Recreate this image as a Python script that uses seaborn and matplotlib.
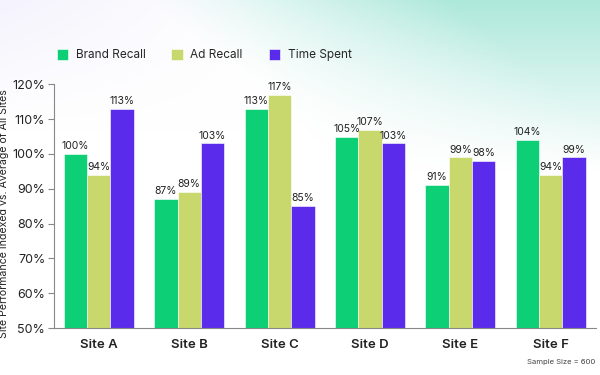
import matplotlib
matplotlib.use('Agg')
import matplotlib.pyplot as plt
import numpy as np
import pandas as pd
import seaborn as sns

sites = ['Site A', 'Site B', 'Site C', 'Site D', 'Site E', 'Site F']
metrics = ['Brand Recall', 'Ad Recall', 'Time Spent']
brand_recall = [100, 87, 113, 105, 91, 104]
ad_recall = [94, 89, 117, 107, 99, 94]
time_spent = [113, 103, 85, 103, 98, 99]
palette = ['#0ccf76', '#c9d86c', '#5a2bea']

df = pd.DataFrame({
    'Site': sites * 3,
    'Metric': [m for m in metrics for _ in sites],
    'Value': brand_recall + ad_recall + time_spent,
})

sns.set_style('white')
plt.rcParams['font.family'] = ['Inter', 'DejaVu Sans']

fig = plt.figure(figsize=(6, 3.75), dpi=100)

# soft background gradient (teal top-right, lavender top-left)
bg = fig.add_axes([0, 0, 1, 1], zorder=-10)
h, w = 375, 600
yy, xx = np.mgrid[0:h, 0:w]
img = np.ones((h, w, 3))
teal = np.array([0.68, 0.91, 0.86])
lav = np.array([0.95, 0.94, 0.99])
t = np.clip(((xx - 330) / 270.0) * 0.9 + (1 - yy / 150.0) * 0.6, 0, 1) * np.clip(1 - yy / 170.0, 0, 1)
t = np.clip(t, 0, 1)[..., None]
l = (np.clip(1 - xx / 260.0, 0, 1) * np.clip(1 - yy / 130.0, 0, 1))[..., None] * 0.8
img = img * (1 - t) + teal * t
img = img * (1 - l) + lav * l
bg.imshow(img, aspect='auto', extent=[0, 1, 0, 1])
bg.axis('off')

ax = fig.add_axes([0.0893, 0.1253, 0.904, 0.6499])
ax.patch.set_alpha(0)
sns.barplot(data=df, x='Site', y='Value', hue='Metric', palette=palette, saturation=1,
            width=0.775, gap=0, edgecolor='white', linewidth=0.4, ax=ax)

for c in ax.containers:
    ax.bar_label(c, fmt='%d%%', fontsize=7.5, color='#222222', padding=2)

ax.set_ylim(50, 120)
ax.set_yticks(range(50, 121, 10))
ax.set_yticklabels([f'{v}%' for v in range(50, 121, 10)], fontsize=9, color='#222222')
ax.set_xlim(-0.5, 5.5)
ax.set_xticks(range(6))
ax.set_xticklabels(sites, fontsize=9.5, fontweight='semibold', color='#222222')
ax.set_xticks(np.arange(0.5, 6, 1), minor=True)
ax.tick_params(axis='x', which='major', length=0, pad=8)
ax.tick_params(axis='x', which='minor', length=4, color='#888888', direction='out')
ax.tick_params(axis='y', length=4, color='#888888', direction='out', left=True, pad=2)
ax.set_xlabel('')
ax.set_ylabel('Site Performance Indexed vs. Average of All Sites', fontsize=7.6, color='#222222')
ax.yaxis.set_label_coords(-0.083, 0.47)
for s in ['top', 'right']:
    ax.spines[s].set_visible(False)
for s in ['left', 'bottom']:
    ax.spines[s].set_color('#888888')
    ax.spines[s].set_linewidth(0.8)

ax.legend(loc='lower left', bbox_to_anchor=(-0.003, 1.075), ncol=3, frameon=False,
          fontsize=8.5, handlelength=1.0, handleheight=1.0, handletextpad=0.6,
          columnspacing=2.2, borderaxespad=0)

fig.text(0.992, 0.035, 'Sample Size = 600', ha='right', va='center', fontsize=5.5, color='#444444')

fig.savefig('out.png', dpi=100)
